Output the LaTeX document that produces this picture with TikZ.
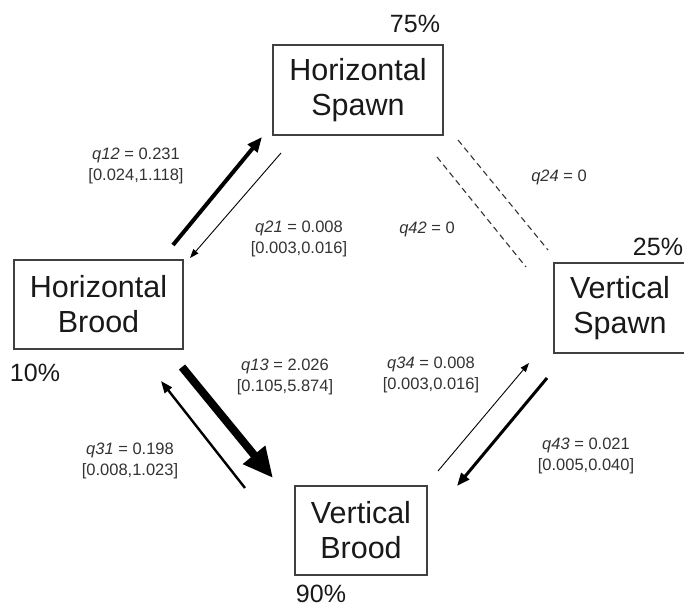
\documentclass[tikz,border=0pt]{standalone}
\usepackage{fontspec}
\setmainfont{Liberation Sans}
\usetikzlibrary{arrows.meta}
\begin{document}
\begin{tikzpicture}[x=1pt,y=-1pt,
  statebox/.style={draw=black!75,line width=1.2pt,inner sep=0pt,align=center,
    font=\fontsize{30.5}{35}\selectfont,text=black!90},
  pct/.style={font=\fontsize{25}{28}\selectfont,text=black!90,inner sep=0pt},
  ratelabel/.style={font=\fontsize{16.5}{21}\selectfont,text=black!80,align=center,inner sep=0pt},
  rate/.style={draw=black}
]
\useasboundingbox (0,0) rectangle (684,607);
\fill[white] (0,0) rectangle (684,607);
% states
\node[statebox,minimum width=170pt,minimum height=90pt] (hs) at (358,90) {Horizontal\\Spawn};
\node[statebox,minimum width=169pt,minimum height=89pt] (hb) at (98.5,304.5) {Horizontal\\Brood};
\node[statebox,minimum width=132pt,minimum height=90pt] (vs) at (620,308) {Vertical\\Spawn};
\node[statebox,minimum width=132pt,minimum height=89pt] (vb) at (361,530.5) {Vertical\\Brood};
% percentages
\node[pct] (p75) at (415,24) {75\%};
\node[pct] (p10) at (35,373) {10\%};
\node[pct] (p25) at (658,247) {25\%};
\node[pct] (p90) at (321,594) {90\%};
% arrow end points
\coordinate (a12s) at (173,245); \coordinate (a12e) at (262,137);
\coordinate (a21s) at (281,153); \coordinate (a21e) at (190,258);
\coordinate (a13s) at (182,367); \coordinate (a13e) at (273,478);
\coordinate (a31s) at (245,488); \coordinate (a31e) at (161,381);
\coordinate (a34s) at (438,471); \coordinate (a34e) at (529,363);
\coordinate (a43s) at (547,378); \coordinate (a43e) at (457,486);
\coordinate (d24s) at (458,140); \coordinate (d24e) at (548,250);
\coordinate (d42s) at (437,157); \coordinate (d42e) at (526,267);
% arrows
\draw[rate,line width=4pt,-{Triangle[length=15pt,width=12pt]}] (a12s) -- (a12e);
\draw[rate,line width=0.9pt,-{Triangle[length=9pt,width=6.5pt]}] (a21s) -- (a21e);
\draw[rate,line width=8pt,-{Triangle[length=30pt,width=27pt]}] (a13s) -- (a13e);
\draw[rate,line width=2.4pt,-{Triangle[length=12pt,width=9pt]}] (a31s) -- (a31e);
\draw[rate,line width=0.9pt,-{Triangle[length=9pt,width=6.5pt]}] (a34s) -- (a34e);
\draw[rate,line width=3pt,-{Triangle[length=13pt,width=10pt]}] (a43s) -- (a43e);
\draw[black!80,line width=1.1pt,dash pattern=on 6pt off 4pt] (d24s) -- (d24e);
\draw[black!80,line width=1.1pt,dash pattern=on 6pt off 4pt] (d42s) -- (d42e);
% labels
\node[ratelabel] (l12) at (136,166) {\textit{q12} = 0.231\\{[}0.024,1.118{]}};
\node[ratelabel] (l21) at (299,239) {\textit{q21} = 0.008\\{[}0.003,0.016{]}};
\node[ratelabel] (l42) at (427,229) {\textit{q42} = 0};
\node[ratelabel] (l24) at (559,177) {\textit{q24} = 0};
\node[ratelabel] (l13) at (285,377) {\textit{q13} = 2.026\\{[}0.105,5.874{]}};
\node[ratelabel] (l31) at (130,461) {\textit{q31} = 0.198\\{[}0.008,1.023{]}};
\node[ratelabel] (l34) at (431,375) {\textit{q34} = 0.008\\{[}0.003,0.016{]}};
\node[ratelabel] (l43) at (586,456) {\textit{q43} = 0.021\\{[}0.005,0.040{]}};
\end{tikzpicture}
\end{document}
